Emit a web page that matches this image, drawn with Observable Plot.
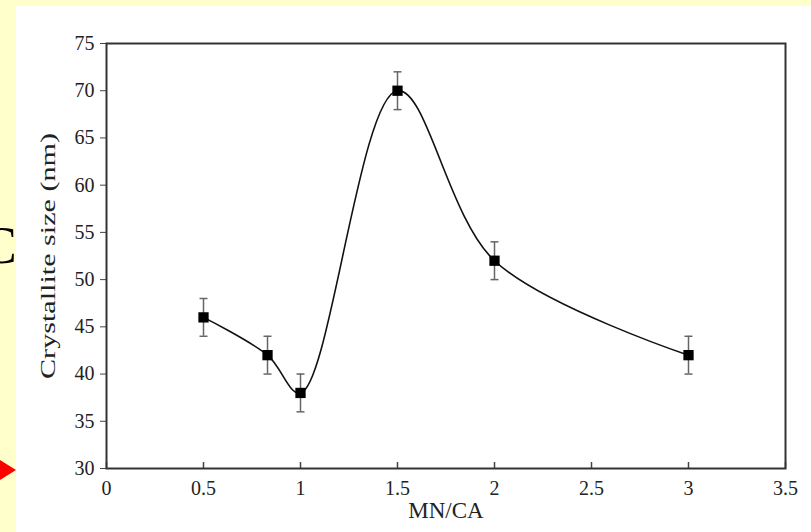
<!DOCTYPE html>
<html>
<head>
<meta charset="utf-8">
<script src="https://cdn.jsdelivr.net/npm/d3@7"></script>
<script src="https://cdn.jsdelivr.net/npm/@observablehq/plot@0.6"></script>
<style>
  html, body { margin: 0; padding: 0; }
  body { width: 811px; height: 532px; background: #FFFFCC; position: relative; overflow: hidden; }
  #deco { position: absolute; left: 0; top: 0; }
  #panel { position: absolute; left: 16px; top: 6px; width: 795px; height: 526px; background: #FFFFFF; }
  #chart { position: absolute; left: 0; top: 0; }
</style>
</head>
<body>
<svg id="deco" width="16" height="532">
  <text x="-18" y="263" font-family="Liberation Serif" font-size="52" fill="#000">C</text>
  <polygon points="0,460 16,470 0,480" fill="#FF0000"></polygon>
</svg>
<div id="panel"></div>
<div id="chart"></div>
<script>
// Data
const mnca = [0.5, 0.83, 1, 1.5, 2, 3];
const crystalliteSize = [46, 42, 38, 70, 52, 42];
const errorBar = [2, 2, 2, 2, 2, 2];
const xTicks = [0, 0.5, 1, 1.5, 2, 2.5, 3, 3.5];
const yTicks = [30, 35, 40, 45, 50, 55, 60, 65, 70, 75];
const xLabel = "MN/CA";
const yLabel = "Crystallite size (nm)";

const data = mnca.map((x, i) => ({x, y: crystalliteSize[i], e: errorBar[i]}));

const W = 811, H = 532;
const mL = 106, mR = 26, mT = 43, mB = 64;
const innerH = H - mT - mB;

const cap = {
  draw(context, size) {
    const r = Math.sqrt(size / Math.PI);
    context.moveTo(-r, 0);
    context.lineTo(r, 0);
  }
};

const font = "Liberation Serif, Times New Roman, serif";

const chart = Plot.plot({
  width: W,
  height: H,
  marginLeft: mL,
  marginRight: mR,
  marginTop: mT,
  marginBottom: mB,
  style: {fontFamily: font, fontSize: "20px", color: "#222", background: "transparent"},
  x: {domain: [0, 3.5]},
  y: {domain: [30, 75]},
  marks: [
    Plot.axisY({ticks: yTicks, tickSize: 6, tickPadding: 6, label: null, stroke: "#444", fill: "#222", fontSize: 20}),
    Plot.axisX({ticks: xTicks, tickSize: 0, tickPadding: 12, label: null, tickFormat: d => String(d), fill: "#222", fontSize: 20}),
    Plot.tickX(xTicks, {x: d => d, stroke: "#444", strokeWidth: 1.5, insetTop: innerH - 6}),
    Plot.frame({stroke: "#333", strokeWidth: 2}),
    Plot.ruleX(data, {x: "x", y1: d => d.y - d.e, y2: d => d.y + d.e, stroke: "#666", strokeWidth: 1.5}),
    Plot.dot(data, {x: "x", y: d => d.y + d.e, symbol: cap, r: 4, stroke: "#666", strokeWidth: 1.5}),
    Plot.dot(data, {x: "x", y: d => d.y - d.e, symbol: cap, r: 4, stroke: "#666", strokeWidth: 1.5}),
    Plot.line(data, {x: "x", y: "y", curve: "catmull-rom", stroke: "#111", strokeWidth: 1.6}),
    Plot.dot(data, {x: "x", y: "y", symbol: "square", r: 5.8, fill: "#000", stroke: "none"}),
    Plot.text([xLabel], {frameAnchor: "bottom", dy: 49, fontSize: 23, fill: "#222", fontFamily: font, textAnchor: "middle"}),
    Plot.text([yLabel], {frameAnchor: "left", dx: -58, rotate: -90, fontSize: 21, fill: "#222", fontFamily: font, textAnchor: "middle"})
  ]
});
// stretch the rotated title to the reference's length
d3.select(chart).selectAll("text").filter(function() { return this.textContent === yLabel; })
  .attr("textLength", 246).attr("lengthAdjust", "spacingAndGlyphs");
document.getElementById("chart").appendChild(chart);
</script>
</body>
</html>
